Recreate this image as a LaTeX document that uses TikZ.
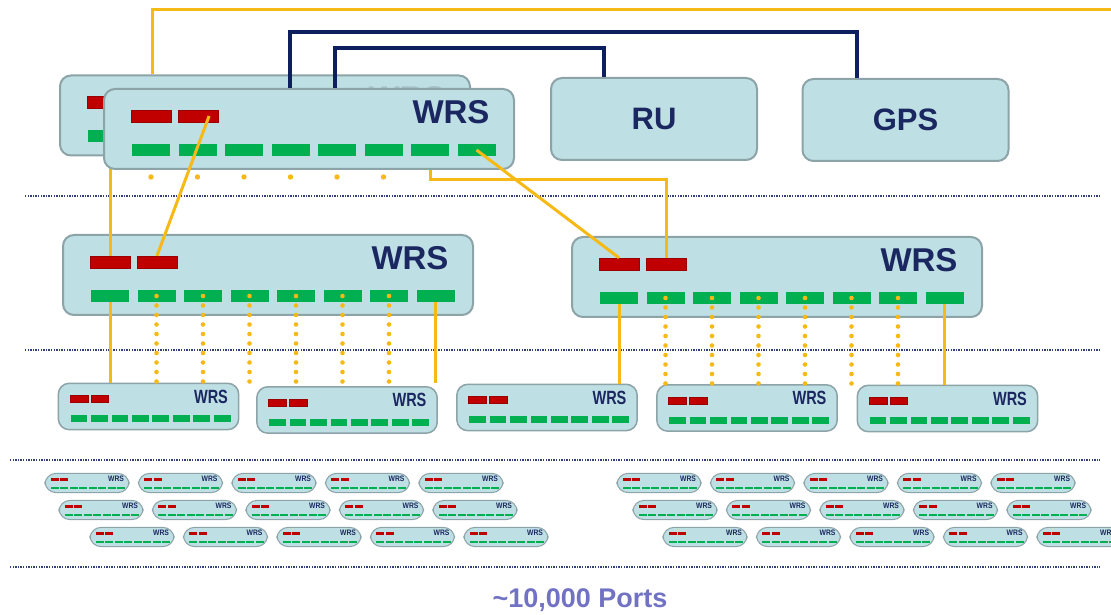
\documentclass[tikz,border=0pt]{standalone}
\usepackage{fontspec}
\setmainfont{Liberation Sans}
\usepackage{tikz}
\usetikzlibrary{calc}
\definecolor{boxfill}{HTML}{BEDFE3}
\definecolor{boxedge}{HTML}{8CA3A8}
\definecolor{portred}{HTML}{C00000}
\definecolor{portgreen}{HTML}{00B050}
\definecolor{fibercol}{HTML}{F7B916}
\definecolor{navyline}{HTML}{0D1F5E}
\definecolor{labelnavy}{HTML}{1B2760}
\definecolor{portscol}{HTML}{7272C4}
\tikzset{
  wrsbody/.style={transform shape,draw=boxedge,fill=boxfill,line width=2pt,rounded corners=11pt,minimum width=410pt,minimum height=80pt,inner sep=0pt},
  redport/.style={transform shape,fill=portred,draw=portred!80!black,line width=0.4pt,minimum width=40pt,minimum height=12pt,inner sep=0pt},
  greenport/.style={transform shape,fill=portgreen,minimum width=38pt,minimum height=12pt,inner sep=0pt},
  wrslabel/.style={transform shape,text=labelnavy,inner sep=0pt,font=\fontsize{33}{33}\selectfont\bfseries},
  pics/wrs/.style={code={
    \node[wrsbody] (-box) at (0,0) {};
    \node[redport] (-r1) at (-158,13) {};
    \node[redport] (-r2) at (-111,13) {};
    \foreach \i in {1,...,8} \node[greenport] (-g\i) at ({-158+46.5*(\i-1)},-21) {};
    \node[wrslabel] (-lbl) at (142,17) {WRS};
  }},
  backwrs/.style={wrslabel/.append style={text=boxedge!45!boxfill}},
  edgewrs/.style={xscale=0.44,yscale=0.58,wrsbody/.append style={line width=1.5pt}},
  leafwrs/.style={xscale=0.205,yscale=0.24,wrsbody/.append style={line width=1pt},redport/.append style={draw=none}},
  unitbox/.style={draw=boxedge,fill=boxfill,line width=2pt,rounded corners=11pt,minimum width=206pt,minimum height=82pt,text=labelnavy,font=\fontsize{31}{31}\selectfont\bfseries},
  fiber/.style={draw=fibercol,line width=3pt},
  fiberdots/.style={draw=fibercol,line width=4.6pt,line cap=round,dash pattern=on 0pt off 9.5pt},
  navywire/.style={draw=navyline,line width=4pt},
  sepline/.style={draw=navyline!85,line width=1.3pt,dash pattern=on 1.3pt off 1.3pt}
}
\begin{document}
\begin{tikzpicture}[x=1pt,y=1pt]
\clip (0,0) rectangle (1111,615);
\foreach \y/\xa in {419/25,265/25,155/10,48/10} \draw[sepline] (\xa,\y) -- (1100,\y);

\pic[backwrs] (bk) at (265,499.5) {wrs};
\node[unitbox] (ru) at (654,496) {RU};
\node[unitbox] (gps) at (905.5,495) {GPS};
\pic (ml) at (268,340) {wrs};
\pic (mr) at (777,338) {wrs};
\draw[fiber] (ml-r1.north) -- (bk-box.south -| ml-r1);
\pic (tp) at (309,486) {wrs};

\coordinate (upcorner) at (152,605);
\coordinate (uplink) at (1111,605);
\draw[fiber] (bk-box.north -| upcorner) -- (upcorner) -- (uplink);
\coordinate (gpsbend) at (290,583);
\coordinate (gpsdrop) at (857,583);
\draw[navywire] (tp-box.north -| gpsbend) -- (gpsbend) -- (gpsdrop) -- (gpsdrop |- gps.north);
\coordinate (rubend) at (335,567);
\coordinate (rudrop) at (604,567);
\draw[navywire] (tp-box.north -| rubend) -- (rubend) -- (rudrop) -- (rudrop |- ru.north);

\draw[fiber] ($(tp-r2.center)!0.55!(tp-r2.east)$) -- (ml-r2.north);
\coordinate (hop) at (0,435);
\draw[fiber] (tp-box.south -| tp-g7) -- (tp-g7 |- hop) -| (mr-r2.north);
\draw[fiber] (tp-g8.center) -- (mr-r1.north);
\foreach \i in {1,...,6} \fill[fibercol] ($(tp-g\i)+(0,-27)$) circle (2.7pt);

\pic[edgewrs] (ea) at (148.5,208.5) {wrs};
\pic[edgewrs] (eb) at (347,205) {wrs};
\pic[edgewrs] (ec) at (547,207.5) {wrs};
\pic[edgewrs] (ed) at (747,207) {wrs};
\pic[edgewrs] (ee) at (947.5,206.5) {wrs};
\draw[fiber] (ml-g1.south) -- (ml-g1 |- ea-box.north);
\draw[fiber] (ml-g8.south) -- (ml-g8 |- ea-box.north);
\foreach \i in {2,...,7} \draw[fiberdots] (ml-g\i.center) -- (ml-g\i |- ea-box.north);
\draw[fiber] (mr-g1.south) -- (mr-g1 |- ec-box.north);
\draw[fiber] (mr-g8.south) -- (mr-g8 |- ee-box.north);
\foreach \i in {2,...,7} \draw[fiberdots] (mr-g\i.center) -- (mr-g\i |- ec-box.north);

\foreach \r/\y/\xa/\xb in {1/132/87/659,2/105/101/675,3/78/132/705}
  \foreach \k in {1,...,5} {
    \pic[leafwrs] (lw\r\k) at ({\xa+93.5*(\k-1)},\y) {wrs};
    \pic[leafwrs] (rw\r\k) at ({\xb+93.5*(\k-1)},\y) {wrs};
  }

\node[text=portscol,font=\fontsize{27}{27}\selectfont\bfseries] (ports) at (580,15) {\textasciitilde 10,000 Ports};
\end{tikzpicture}
\end{document}
